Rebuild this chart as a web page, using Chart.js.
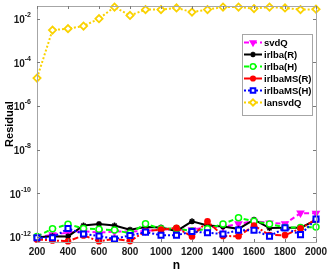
<!DOCTYPE html>
<html><head><meta charset="utf-8">
<script src="https://cdn.jsdelivr.net/npm/chart.js@4.4.1/dist/chart.umd.min.js"></script>
<style>html,body{margin:0;padding:0;background:#fff}#wrap{width:327px;height:273px;position:relative}</style>
</head><body><div id="wrap"><canvas id="c"></canvas></div>
<script>
// ---- data ----
const nValues = [200,300,400,500,600,700,800,900,1000,1100,1200,1300,1400,1500,1600,1700,1800,1900,2000];
const seriesNames = ['svdQ','irlba(R)','irlba(H)','irlbaMS(R)','irlbaMS(H)','lansvdQ'];
const svdQ      = [9.7e-13,1.3e-12,1.6e-12,1.9e-12,1.6e-12,1.8e-12,1.8e-12,1.9e-12,2.3e-12,2.2e-12,2.2e-12,2.9e-12,2.9e-12,4.1e-12,5.4e-12,4.5e-12,4.1e-12,1.26e-11,1.23e-11];
const irlbaR    = [1.0e-12,1.1e-12,1.08e-12,3.4e-12,4.0e-12,3.4e-12,2.2e-12,2.9e-12,2.8e-12,1.9e-12,5.3e-12,3.4e-12,3.1e-12,2.4e-12,6.3e-12,2.6e-12,2.7e-12,2.7e-12,6.0e-12];
const irlbaH    = [1.08e-12,2.4e-12,3.9e-12,2.5e-12,2.3e-12,2.1e-12,1.5e-12,4.1e-12,2.4e-12,2.5e-12,1.9e-12,2.4e-12,4.0e-12,7.7e-12,5.3e-12,4.0e-12,2.8e-12,2.8e-12,2.9e-12];
const irlbaMSR  = [7.9e-13,7.1e-13,6.5e-13,1.2e-12,6.5e-13,8.3e-13,6.6e-13,1.9e-12,2.2e-12,2.65e-12,1.08e-12,5.3e-12,1.13e-12,1.1e-12,3.4e-12,1.25e-12,1.23e-12,2.5e-12,6.5e-12];
const irlbaMSH  = [9.4e-13,9.4e-13,2.5e-12,1.4e-12,1.13e-12,8.3e-13,1.2e-12,1.7e-12,1.23e-12,1.23e-12,1.8e-12,1.58e-12,1.4e-12,2.1e-12,2.07e-12,1.1e-12,2.65e-12,1.3e-12,6.7e-12];
const lansvdQ   = [1.9e-5,3.0e-3,3.5e-3,4.6e-3,1.0e-2,3.4e-2,1.4e-2,2.6e-2,2.6e-2,3.1e-2,2.0e-2,2.6e-2,3.4e-2,3.4e-2,2.9e-2,3.4e-2,3.1e-2,2.6e-2,2.7e-2];
const xTickLabels = [200,400,600,800,1000,1200,1400,1600,1800,2000];
const yTickExponents = [-12,-10,-8,-6,-4,-2];
const xTitle = 'n';
const yTitle = 'Residual';

// ---- styles ----
const styles = [
  {color:'#ff00ff', dash:[5,3], pointStyle:'triangle', rotation:180, radius:3.5, fill:'#ff00ff', bw:1.5},
  {color:'#000000', dash:[], pointStyle:'star', rotation:0, radius:3, fill:'#000000', bw:1.5},
  {color:'#00ff00', dash:[5,3], pointStyle:'circle', rotation:0, radius:3, fill:'#ffffff', bw:1.5},
  {color:'#ff0000', dash:[6,2,2,2], pointStyle:'circle', rotation:0, radius:2.6, fill:'#ff0000', bw:1.5},
  {color:'#0000ff', dash:[2,2], pointStyle:'rect', rotation:0, radius:3.6, fill:'#ffffff', bw:2},
  {color:'#fad200', dash:[2,2], pointStyle:'rectRot', rotation:0, radius:3.6, fill:'#ffffff', bw:1.8}
];
const seriesValues = [svdQ, irlbaR, irlbaH, irlbaMSR, irlbaMSH, lansvdQ];

const datasets = seriesValues.map((vals,i)=>{
  const s = styles[i];
  return {
    label: seriesNames[i],
    data: nValues.map((n,k)=>({x:n, y:vals[k]})),
    borderColor: s.color, backgroundColor: s.fill,
    borderWidth: 2, borderDash: s.dash,
    pointStyle: s.pointStyle, pointRotation: s.rotation,
    pointRadius: s.radius, pointBorderWidth: s.bw,
    pointBorderColor: s.color, pointBackgroundColor: s.fill,
    tension: 0, clip: false, order: 5 - i
  };
});

const FONT = '"Liberation Sans", Arial, Helvetica, sans-serif';

const decorPlugin = {
  id: 'decor',
  afterDatasetsDraw(chart) {
    const ctx = chart.ctx, a = chart.chartArea;
    const xs = chart.scales.x, ys = chart.scales.y;
    ctx.save();
    ctx.strokeStyle = '#a6a6a6'; ctx.lineWidth = 1; ctx.setLineDash([]);
    ctx.strokeRect(Math.round(a.left)+0.5, Math.round(a.top)+0.5, Math.round(a.right-a.left), Math.round(a.bottom-a.top));
    ctx.strokeStyle = '#7a7a7a';
    ctx.beginPath();
    xTickLabels.forEach(v=>{
      const px = Math.round(xs.getPixelForValue(v))+0.5;
      ctx.moveTo(px, a.bottom); ctx.lineTo(px, a.bottom-3);
      ctx.moveTo(px, a.top); ctx.lineTo(px, a.top+3);
    });
    yTickExponents.forEach(e=>{
      const py = Math.round(ys.getPixelForValue(Math.pow(10,e)))+0.5;
      ctx.moveTo(a.left, py); ctx.lineTo(a.left+3, py);
      ctx.moveTo(a.right, py); ctx.lineTo(a.right-3, py);
    });
    ctx.stroke();
    ctx.fillStyle = '#1a1a1a';
    ctx.font = 'bold 10px ' + FONT;
    ctx.textAlign = 'center'; ctx.textBaseline = 'middle';
    xTickLabels.forEach(v=>{
      ctx.fillText(String(v), xs.getPixelForValue(v), a.bottom + 10.5);
    });
    yTickExponents.forEach(e=>{
      const py = ys.getPixelForValue(Math.pow(10,e));
      const expStr = '-' + String(Math.abs(e));
      ctx.font = 'bold 7px ' + FONT;
      const ew = ctx.measureText(expStr).width;
      const right = a.left - 6;
      ctx.textAlign = 'left'; ctx.textBaseline = 'middle';
      ctx.fillText(expStr, right - ew, py - 3.5);
      ctx.font = 'bold 10px ' + FONT;
      ctx.textAlign = 'right';
      ctx.fillText('10', right - ew, py + 1.5);
    });
    ctx.fillStyle = '#000';
    ctx.font = 'bold 12px ' + FONT;
    ctx.textAlign = 'center'; ctx.textBaseline = 'middle';
    ctx.fillText(xTitle, (a.left + a.right)/2, 266);
    ctx.save();
    ctx.translate(10, (a.top + a.bottom)/2);
    ctx.rotate(-Math.PI/2);
    ctx.font = 'bold 11px ' + FONT;
    ctx.fillText(yTitle, 0, 0);
    ctx.restore();
    // legend
    const lx = 242, ly = 34, lw = 70, lh = 81;
    ctx.fillStyle = '#fff';
    ctx.fillRect(lx, ly, lw, lh);
    ctx.strokeStyle = '#a6a6a6'; ctx.lineWidth = 1;
    ctx.strokeRect(lx + 0.5, ly + 0.5, lw, lh);
    chart.data.datasets.forEach((ds, i)=>{
      const yy = 42.5 + i * 12;
      const s = styles[i];
      ctx.strokeStyle = s.color; ctx.lineWidth = 2; ctx.setLineDash(s.dash);
      ctx.beginPath(); ctx.moveTo(244, yy); ctx.lineTo(262, yy); ctx.stroke();
      ctx.setLineDash([]);
      if (Chart.helpers && Chart.helpers.drawPoint) {
        ctx.strokeStyle = s.color; ctx.fillStyle = s.fill; ctx.lineWidth = s.bw;
        Chart.helpers.drawPoint(ctx, {pointStyle: s.pointStyle, rotation: s.rotation, radius: s.radius * 0.9, borderWidth: s.bw}, 253, yy);
      }
      ctx.fillStyle = '#000';
      ctx.font = 'bold 9.5px ' + FONT;
      ctx.textAlign = 'left'; ctx.textBaseline = 'middle';
      ctx.fillText(ds.label, 264, yy + 0.5);
    });
    ctx.restore();
  }
};

new Chart(document.getElementById('c'), {
  type: 'line',
  data: { datasets },
  options: {
    responsive: true, maintainAspectRatio: false, animation: false,
    devicePixelRatio: 1,
    layout: { padding: { top: 3, right: 11, left: 0, bottom: 0 } },
    plugins: { legend: { display: false }, tooltip: { enabled: false } },
    scales: {
      x: {
        type: 'linear', min: 200, max: 2000,
        ticks: { display: false, stepSize: 200 },
        grid: { display: false, drawTicks: false },
        border: { display: false },
        afterFit(s) { s.height = 31; }
      },
      y: {
        type: 'logarithmic', min: 6.4e-13, max: 0.038,
        ticks: { display: false },
        grid: { display: false, drawTicks: false },
        border: { display: false },
        afterBuildTicks(s) { s.ticks = yTickExponents.map(e=>({value: Math.pow(10,e)})); },
        afterFit(s) { s.width = 37; }
      }
    }
  },
  plugins: [decorPlugin]
});
</script>
</body></html>
